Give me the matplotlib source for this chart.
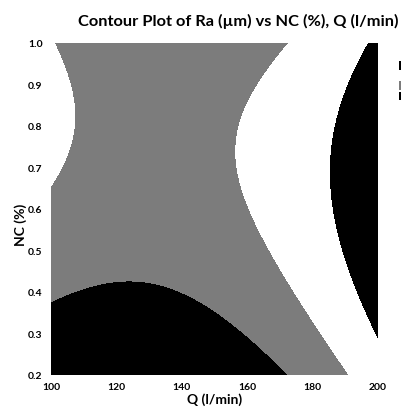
import numpy as np
import matplotlib
matplotlib.use("Agg")
import matplotlib.pyplot as plt
from matplotlib.patches import Patch

FONT = ["Lato", "DejaVu Sans"]

# fitted quadratic response surface for Ra, in coded units
# u = (Q - 150) / 50, v = (NC - 0.6) / 0.4
# terms: const, u, v, u^2, v^2, u*v
ra_coef = [1.3757, 0.4723, 0.3356, 0.5316, -0.4488, -0.1929]

q_range = [100, 200]
nc_range = [0.2, 1.0]
ra_levels = [1.0, 1.5, 2.0]
band_colors = ["black", "#7c7c7c", "white", "black"]
band_labels = ["< 1.0", "1.0 - 1.5", "1.5 - 2.0", "> 2.0"]

q_ticks = [100, 120, 140, 160, 180, 200]
nc_ticks = [0.2, 0.3, 0.4, 0.5, 0.6, 0.7, 0.8, 0.9, 1.0]

Q, NC = np.meshgrid(np.linspace(*q_range, 400), np.linspace(*nc_range, 400))
u = (Q - 150) / 50
v = (NC - 0.6) / 0.4
c = ra_coef
RA = c[0] + c[1] * u + c[2] * v + c[3] * u**2 + c[4] * v**2 + c[5] * u * v

fig = plt.figure(figsize=(4.02, 4.14), dpi=100)
ax = fig.add_axes([0.127, 0.092, 0.813, 0.802])
ax.contourf(Q, NC, RA, levels=[RA.min() - 1] + ra_levels + [RA.max() + 1],
            colors=band_colors)

ax.set_xlim(q_range)
ax.set_ylim(nc_range)
ax.set_xticks(q_ticks)
ax.set_yticks(nc_ticks)
ax.set_xticklabels([str(t) for t in q_ticks])
ax.set_yticklabels(["%.1f" % t for t in nc_ticks])
ax.tick_params(length=0, labelsize=7.5)
ax.tick_params(axis="x", pad=5)
ax.tick_params(axis="y", pad=6)
for lab in ax.get_xticklabels() + ax.get_yticklabels():
    lab.set_family(FONT)
    lab.set_fontweight("bold")
for s in ax.spines.values():
    s.set_visible(False)

ax.set_xlabel("Q (l/min)", family=FONT, fontsize=10, fontweight="bold", labelpad=1)
ax.set_ylabel("NC (%)", family=FONT, fontsize=10, fontweight="bold")
ax.yaxis.set_label_coords(-0.075, 0.455)

fig.text(0.593, 0.947, "Contour Plot of Ra (µm) vs NC (%), Q (l/min)",
         family=FONT, fontsize=11.8, fontweight="bold", ha="center", va="center")

handles = [Patch(facecolor=col, edgecolor="none") for col in band_colors]
handles, labels = handles[::-1], band_labels[::-1]
fig.legend(handles, labels, loc="upper left", bbox_to_anchor=(399.5 / 402, 1 - 62 / 414),
           frameon=False, handlelength=1.0, handleheight=1.2,
           labelspacing=0.2, borderpad=0, borderaxespad=0,
           prop={"family": FONT, "size": 6})

fig.savefig("out.png")
